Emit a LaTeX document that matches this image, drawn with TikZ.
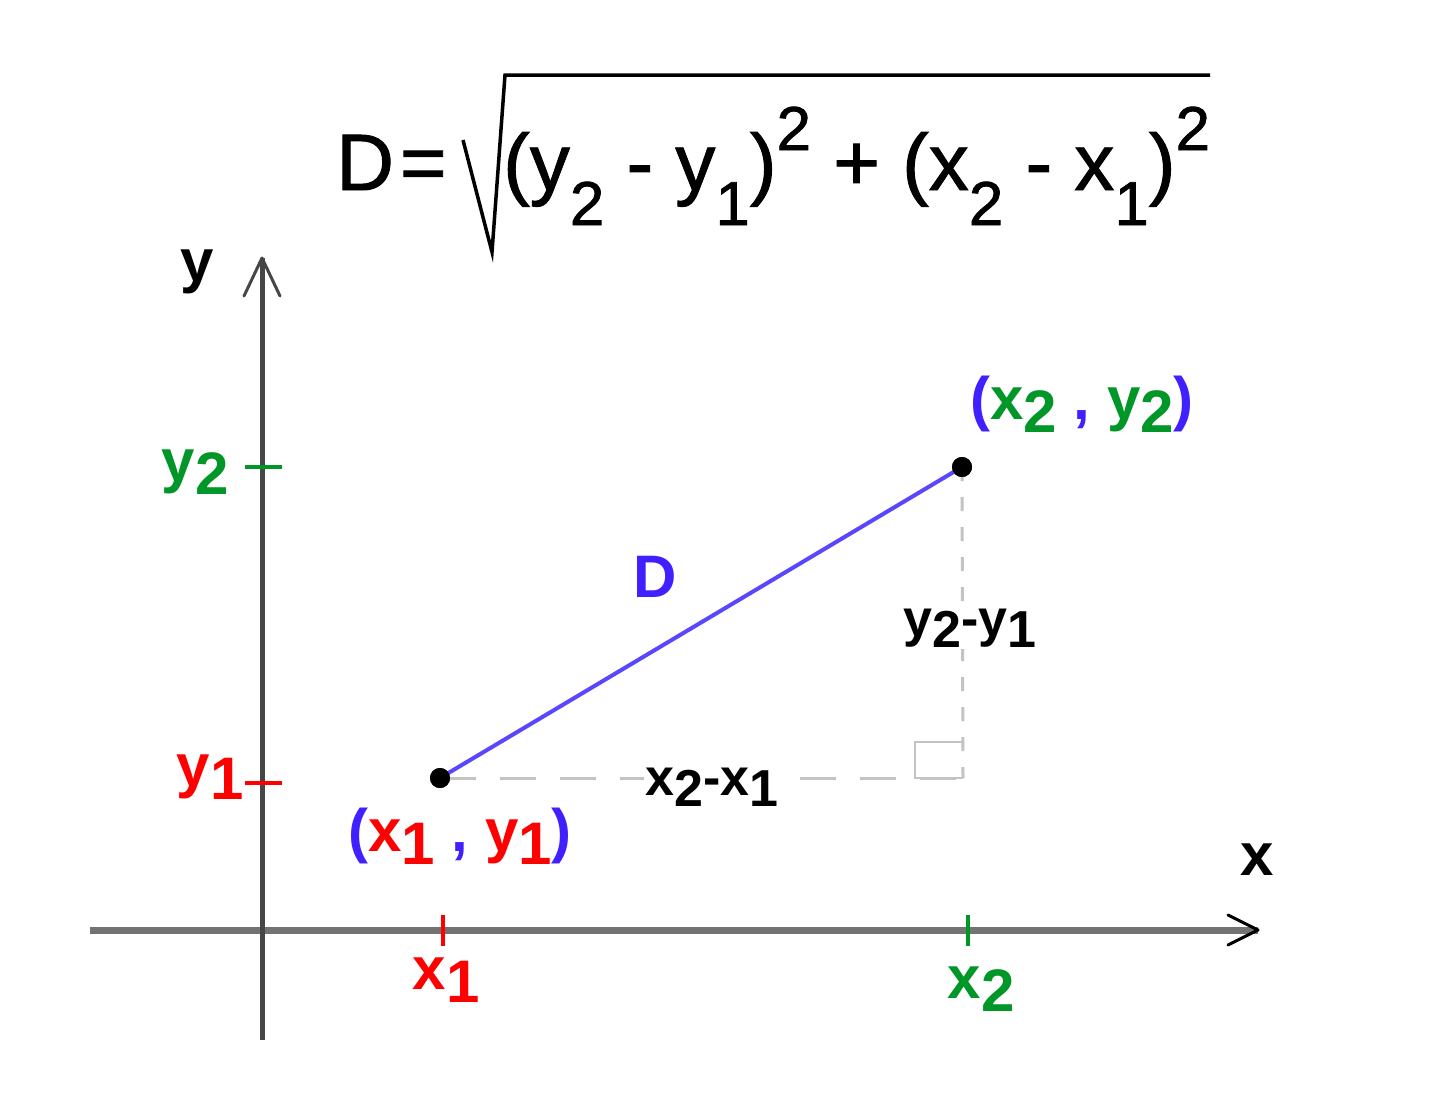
\documentclass[tikz,border=0pt]{standalone}
\usepackage{fontspec}
\setmainfont{Liberation Sans}
\newfontfamily\formfont[FakeBold=1.2]{Liberation Sans}
\definecolor{ggreen}{RGB}{0,150,40}
\definecolor{gred}{RGB}{255,0,0}
\definecolor{gblue}{RGB}{64,32,255}
\definecolor{segblue}{RGB}{90,70,255}
\definecolor{axisdark}{RGB}{70,70,70}
\definecolor{axisgray}{RGB}{115,115,115}
\definecolor{dashgray}{RGB}{195,195,195}
\newcommand\lsub[1]{\raisebox{-0.22em}{#1}}
\newcommand\fsub[1]{\raisebox{-35pt}{\fontsize{62}{62}\selectfont #1}}
\newcommand\fsup[1]{\raisebox{40pt}{\fontsize{62}{62}\selectfont #1}}
\begin{document}
\begin{tikzpicture}[x=1pt,y=-1pt,
  lbl/.style={inner sep=0pt, font=\fontsize{60}{60}\selectfont\bfseries},
  smalllbl/.style={inner sep=2pt, fill=white, font=\fontsize{52}{52}\selectfont\bfseries},
  formula/.style={inner sep=0pt, font=\formfont\fontsize{80}{80}\selectfont},
  pt/.style={circle, fill=black, inner sep=0pt, minimum size=20pt},
  tick/.style={line width=4pt},
  openarrow/.style={line width=3pt, line cap=round, line join=round}]
\useasboundingbox (0,0) rectangle (1440,1096);

% axes
\coordinate (xs) at (90,930);
\coordinate (xe) at (1258,930);
\coordinate (ys) at (262,1040);
\coordinate (ye) at (262,258);
\draw[axisgray, line width=7pt] (xs) -- (xe);
\draw[black, openarrow] (1228,915) -- (xe) -- (1228,945);
\draw[axisdark, line width=5pt] (ys) -- (ye);
\draw[axisdark, openarrow] (244,296) -- (ye) -- (280,296);
\node[lbl] (ylab) at (197,272) {y};
\node[lbl] (xlab) at (1257,860) {x};

% ticks
\draw[ggreen, tick] (245,467) -- (282,467);
\draw[gred, tick] (245,783) -- (282,783);
\draw[gred, tick] (443,915) -- (443,946);
\draw[ggreen, tick] (968,915) -- (968,946);
\node[lbl, text=ggreen] (y2lab) at (195,472) {y\lsub{2}};
\node[lbl, text=gred] (y1lab) at (210,777) {y\lsub{1}};
\node[lbl, text=gred] (x1lab) at (446,980) {x\lsub{1}};
\node[lbl, text=ggreen] (x2lab) at (981,989) {x\lsub{2}};

% points
\node[pt] (P1) at (440,778) {};
\node[pt] (P2) at (962,467) {};
\coordinate (C) at (963,778);

% right triangle legs
\draw[dashgray, line width=3pt, dash pattern=on 36pt off 24pt] (P1.center) -- (C);
\draw[dashgray, line width=3pt, dash pattern=on 14pt off 16pt] (P2.center) -- (C);
\draw[dashgray, line width=2.5pt] (963,742) -- (915,742) -- (915,778) -- (963,778);
\node[smalllbl] (dx) at (712,787) {x\lsub{2}-x\lsub{1}};
\node[smalllbl] (dy) at (970,628) {y\lsub{2}-y\lsub{1}};

% hypotenuse
\draw[segblue, line width=4pt] (P1.center) -- (P2.center);
\node[pt] at (P1.center) {};
\node[pt] at (P2.center) {};
\node[lbl, text=gblue] (Dlab) at (655,577) {D};

% point labels
\node[lbl, text=gblue] (P1lab) at (460,836) {(\textcolor{gred}{x\lsub{1}} , \textcolor{gred}{y\lsub{1}})};
\node[lbl, text=gblue] (P2lab) at (1082,404) {(\textcolor{ggreen}{x\lsub{2}} , \textcolor{ggreen}{y\lsub{2}})};

% formula
\node[formula, anchor=base west] (Dform) at (336,190) {D\hspace{6pt}=};
\node[formula, anchor=base west] (rad) at (503,190) {(y\fsub{2} - y\fsub{1})\fsup{2} + (x\fsub{2} - x\fsub{1})\fsup{2}};
\draw[black, line width=3.5pt, line join=miter] (463,140) -- (492,252) -- (505,75) -- (1210,75);
\end{tikzpicture}
\end{document}
